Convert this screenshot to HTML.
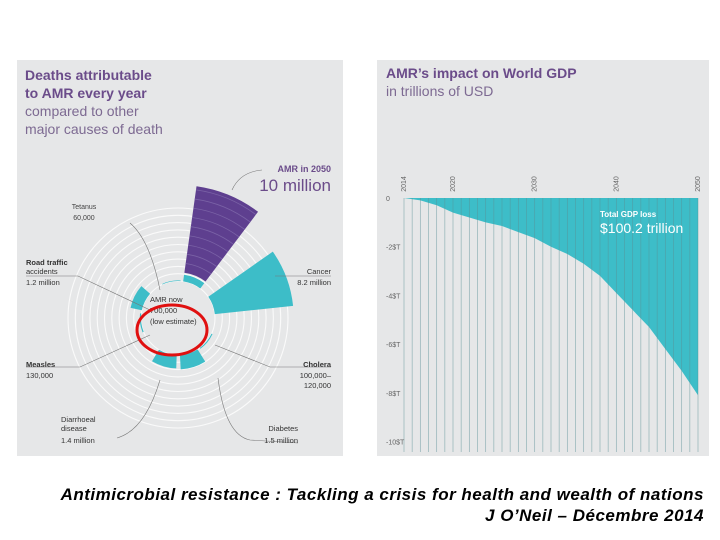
<!DOCTYPE html>
<html><head><meta charset="utf-8"><style>
body{margin:0;background:#fff;width:720px;height:540px;overflow:hidden;position:relative;font-family:"Liberation Sans",sans-serif}
.cap{position:absolute;right:16px;font-style:italic;font-weight:bold;font-size:17px;letter-spacing:0.5px;line-height:20px;color:#000;white-space:nowrap}
</style></head><body>
<svg width="720" height="540" style="position:absolute;left:0;top:0">
<defs>
<linearGradient id="fade" x1="0" y1="0" x2="0" y2="1"><stop offset="0" stop-color="#8a8a8a"/><stop offset="0.7" stop-color="#b5b5b5"/><stop offset="1" stop-color="#e2e2e2"/></linearGradient>
</defs>
<rect x="17" y="60" width="326" height="396" fill="#e6e7e8"/>
<rect x="377" y="60" width="332" height="396" fill="#e6e7e8"/>
<g font-family="Liberation Sans, sans-serif">
<text x="25" y="80" font-size="14" font-weight="bold" fill="#6b4c8a">Deaths attributable</text>
<text x="25" y="98" font-size="14" font-weight="bold" fill="#6b4c8a">to AMR every year</text>
<text x="25" y="116" font-size="14" fill="#7d6a92">compared to other</text>
<text x="25" y="134" font-size="14" fill="#7d6a92">major causes of death</text>
<text x="386" y="78" font-size="14" font-weight="bold" fill="#6b4c8a">AMR’s impact on World GDP</text>
<text x="386" y="96" font-size="14" fill="#7d6a92">in trillions of USD</text>
</g>
<g id="polar"></g>
<g id="gdp"></g>
<ellipse cx="172" cy="330" rx="35" ry="25" fill="none" stroke="#e01010" stroke-width="3"/>
</svg>
<div class="cap" style="top:485px">Antimicrobial resistance : Tackling a crisis for health and wealth of nations</div>
<div class="cap" style="top:506px">J O’Neil – Décembre 2014</div>
<script>
const NS="http://www.w3.org/2000/svg";
function mk(t,a,p){const e=document.createElementNS(NS,t);for(const k in a)e.setAttribute(k,a[k]);p.appendChild(e);return e;}
// ---- polar chart data
const causes=["AMR in 2050","Cancer","Cholera","Diabetes","Diarrhoeal disease","Measles","Road traffic accidents","Tetanus","AMR now"];
const deathsMillions=[10,8.2,0.11,1.5,1.4,0.13,1.2,0.06,0.7];
const startAngles=[8,55,115,148,182,248,282,335,8];
const colorsP=["#5e3f8f","#3dbdc8","#3dbdc8","#3dbdc8","#3dbdc8","#3dbdc8","#3dbdc8","#3dbdc8","#3dbdc8"];
const cx=178,cy=318,r0=37,kR=9.6,span=29;
const P=document.getElementById('polar');
for(let i=0;i<11;i++){const c=mk('circle',{cx,cy,r:r0+i*7.3,fill:'none',stroke:'#fafafa','stroke-width':1.1},P);

}
function rad(v){return r0+v*kR;}
function wedge(a0,a1,ri,ro){const f=a=>(a-90)*Math.PI/180;
const p=(r,a)=>[cx+r*Math.cos(f(a)),cy+r*Math.sin(f(a))];
const [x1,y1]=p(ro,a0),[x2,y2]=p(ro,a1),[x3,y3]=p(ri,a1),[x4,y4]=p(ri,a0);
return `M${x1},${y1}A${ro},${ro} 0 0 1 ${x2},${y2}L${x3},${y3}A${ri},${ri} 0 0 0 ${x4},${y4}Z`;}
causes.forEach((c,i)=>{
 const ri=i===0?rad(deathsMillions[8])+2:r0;
 const w=mk('path',{d:wedge(startAngles[i],startAngles[i]+span,ri,rad(deathsMillions[i])),fill:colorsP[i]},P);
 
 
});
for(let i=1;i<10;i++){const r=rad(deathsMillions[8])+2+i*9.3;if(r>rad(deathsMillions[0]))break;
 const f=a=>(a-90)*Math.PI/180;
 const l=mk('path',{d:`M${cx+r*Math.cos(f(8))},${cy+r*Math.sin(f(8))}A${r},${r} 0 0 1 ${cx+r*Math.cos(f(37))},${cy+r*Math.sin(f(37))}`,fill:'none',stroke:'#7a62a6','stroke-width':0.8},P);
 
 }
const leaders=[["M232,190 Q240,172 262,170","amr"],["M130,223 Q150,240 160,290","tetanus"],["M26,276 L78,276 L150,310","road"],["M275,276 L331,276","cancer"],["M26,367 L80,367 L150,335","measles"],["M215,345 L270,367 L331,367","cholera"],["M117,438 Q145,430 160,380","diarrhoeal"],["M218,378 Q225,435 250,440 L298,443","diabetes"]];
leaders.forEach(l=>{const e=mk('path',{d:l[0],fill:'none',stroke:'#777','stroke-width':0.6},P);

});
const labels=[[331,172,"AMR in 2050",9,"bold","#6b4c8a","end"],[331,191,"10 million",17,"normal","#6b4c8a","end"],
[84,209,"Tetanus",7,"normal","#444","middle"],[84,220,"60,000",7,"normal","#444","middle"],
[26,265,"Road traffic",7.5,"bold","#333","start"],[26,274,"accidents",7.5,"normal","#333","start"],[26,285,"1.2 million",7.5,"normal","#333","start"],
[331,274,"Cancer",7.5,"normal","#333","end"],[331,285,"8.2 million",7.5,"normal","#333","end"],
[26,367,"Measles",7.5,"bold","#333","start"],[26,378,"130,000",7.5,"normal","#333","start"],
[331,367,"Cholera",7.5,"bold","#333","end"],[331,378,"100,000–",7.5,"normal","#333","end"],[331,388,"120,000",7.5,"normal","#333","end"],
[61,422,"Diarrhoeal",7.5,"normal","#333","start"],[61,431,"disease",7.5,"normal","#333","start"],[61,443,"1.4 million",7.5,"normal","#333","start"],
[298,431,"Diabetes",7.5,"normal","#333","end"],[298,443,"1.5 million",7.5,"normal","#333","end"],
[150,302,"AMR now",7.5,"normal","#333","start"],[150,313,"700,000",7.5,"normal","#333","start"],[150,324,"(low estimate)",7.5,"normal","#333","start"]];
labels.forEach(l=>{const t=mk('text',{x:l[0],y:l[1],'font-size':l[3],'font-weight':l[4],fill:l[5],'text-anchor':l[6],'font-family':'Liberation Sans, sans-serif'},P);t.textContent=l[2];

});
// ---- GDP chart data
const years=[2014,2016,2018,2020,2022,2024,2026,2028,2030,2032,2034,2036,2038,2040,2042,2044,2046,2048,2050];
const gdpLoss=[0,-0.1,-0.3,-0.6,-0.8,-1.0,-1.15,-1.4,-1.65,-2.0,-2.3,-2.7,-3.2,-3.9,-4.6,-5.3,-6.2,-7.1,-8.1];
const yTicks=[0,-2,-4,-6,-8,-10];
const yTickLabels=["0","-2$T","-4$T","-6$T","-8$T","-10$T"];
const xTickYears=[2014,2020,2030,2040,2050];
const G=document.getElementById('gdp');
const X=y=>404+(y-2014)*(698-404)/36, Y=v=>198-v*24.35;
for(let y=2014;y<=2050;y++){const l=mk('line',{x1:X(y),x2:X(y),y1:198,y2:452,stroke:'url(#fade)','stroke-width':1},G);

}
let d=`M${X(years[0])},${Y(0)}`;years.forEach((y,i)=>d+=`L${X(y)},${Y(gdpLoss[i])}`);d+=`L${X(2050)},${Y(0)}Z`;
const area=mk('path',{d,fill:'#3dbdc8'},G);


for(let y=2014;y<=2050;y++){const l=mk('line',{x1:X(y),x2:X(y),y1:198,y2:452,stroke:'#5a8f95','stroke-width':0.7,'stroke-opacity':0.6},G);

}
yTicks.forEach((v,i)=>{const t=mk('text',{x:386,y:Y(v)+3,'font-size':7,fill:'#666','font-family':'Liberation Sans, sans-serif'},G);t.textContent=yTickLabels[i];

});
xTickYears.forEach(y=>{const t=mk('text',{x:0,y:0,'font-size':7,fill:'#666','text-anchor':'middle','font-family':'Liberation Sans, sans-serif',transform:`translate(${X(y)+2},184) rotate(-90)`},G);t.textContent=y;

});
const t1=mk('text',{x:600,y:217,'font-size':8,'font-weight':'bold',fill:'#fff','font-family':'Liberation Sans, sans-serif'},G);t1.textContent="Total GDP loss";


const t2=mk('text',{x:600,y:233,'font-size':14,fill:'#fff','font-family':'Liberation Sans, sans-serif'},G);t2.textContent="$100.2 trillion";


</script>
</body></html>
